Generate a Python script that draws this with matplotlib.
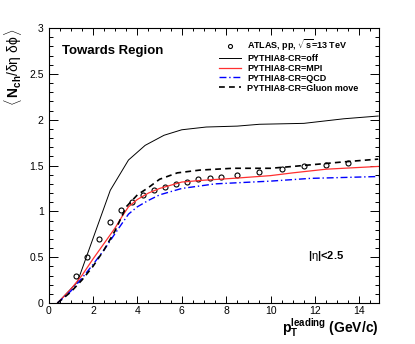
import numpy as np
import matplotlib
matplotlib.use('Agg')
import matplotlib.pyplot as plt
from matplotlib.ticker import MultipleLocator, FormatStrFormatter

plt.rcParams['font.family'] = ['Liberation Sans', 'DejaVu Sans']
plt.rcParams['mathtext.fontset'] = 'custom'
plt.rcParams['mathtext.rm'] = 'Liberation Sans'
plt.rcParams['mathtext.it'] = 'Liberation Sans:italic'
plt.rcParams['mathtext.bf'] = 'Liberation Sans:bold'

# ATLAS data
atlas_x = [1.25, 1.75, 2.25, 2.75, 3.25, 3.75, 4.25, 4.75, 5.25, 5.75, 6.25, 6.75,
           7.25, 7.75, 8.5, 9.5, 10.5, 11.5, 12.5, 13.5]
atlas_y = [0.30, 0.50, 0.70, 0.88, 1.01, 1.10, 1.18, 1.23, 1.27, 1.30, 1.32, 1.35,
           1.36, 1.38, 1.40, 1.43, 1.46, 1.49, 1.51, 1.53]

# PYTHIA8 CR=off
off_x = [0.4, 1.3, 2.78, 3.6, 4.35, 5.2, 6.0, 7.1, 8.5, 9.5, 11.5, 13.3, 14.85]
off_y = [0.0, 0.23, 1.23, 1.56, 1.72, 1.83, 1.89, 1.92, 1.93, 1.95, 1.96, 2.01, 2.04]

# PYTHIA8 CR=MPI
mpi_x = [0.4, 1.0, 1.5, 2.0, 2.5, 3.0, 3.3, 3.6, 4.0, 4.5, 5.0, 6.0, 7.0, 8.3, 10.0, 11.0, 12.5, 14.85]
mpi_y = [0.0, 0.15, 0.30, 0.48, 0.65, 0.82, 0.94, 1.05, 1.13, 1.20, 1.25, 1.32, 1.34, 1.36, 1.39, 1.42, 1.46, 1.49]

# PYTHIA8 CR=QCD
qcd_x = [0.4, 1.0, 1.5, 2.0, 2.5, 3.0, 3.6, 4.0, 4.5, 5.0, 6.0, 7.5, 10.0, 11.8, 14.85]
qcd_y = [0.0, 0.13, 0.27, 0.42, 0.58, 0.76, 0.97, 1.05, 1.12, 1.18, 1.25, 1.30, 1.33, 1.36, 1.38]

# PYTHIA8 CR=Gluon move
gm_x = [0.4, 1.0, 1.5, 2.0, 2.5, 3.0, 3.5, 4.0, 4.5, 5.0, 5.8, 6.8, 8.3, 10.0, 11.0, 13.3, 14.85]
gm_y = [0.0, 0.12, 0.25, 0.40, 0.58, 0.79, 1.05, 1.18, 1.26, 1.35, 1.42, 1.45, 1.47, 1.47, 1.49, 1.54, 1.57]

fig = plt.figure(figsize=(4.15, 3.44), dpi=100)
ax = fig.add_axes([0.117, 0.119, 0.7955, 0.7996])

ax.plot(atlas_x, atlas_y, 'o', mfc='none', mec='black', ms=3.6, mew=0.8,
        label=r'ATLAS, pp, $\sqrt{\mathbf{s}}$=13 TeV')
ax.plot(off_x, off_y, '-', color='black', lw=0.7, label='PYTHIA8-CR=off')
ax.plot(mpi_x, mpi_y, '-', color='#ff3030', lw=0.9, label='PYTHIA8-CR=MPI')
ax.plot(qcd_x, qcd_y, color='blue', lw=1.0, dashes=(5, 2, 1, 2), label='PYTHIA8-CR=QCD')
ax.plot(gm_x, gm_y, color='black', lw=1.2, dashes=(3.5, 2.5), label='PYTHIA8-CR=Gluon move')

ax.set_xlim(0, 14.87)
ax.set_ylim(0, 3)

ax.xaxis.set_major_locator(MultipleLocator(2))
ax.xaxis.set_minor_locator(MultipleLocator(0.5))
ax.yaxis.set_major_locator(MultipleLocator(0.5))
ax.yaxis.set_minor_locator(MultipleLocator(0.1))
ax.yaxis.set_major_formatter(FormatStrFormatter('%g'))
ax.tick_params(which='both', direction='in', top=True, right=True, labelsize=7.5, width=0.7)
ax.tick_params(axis='y', which='major', length=6.5)
ax.tick_params(axis='y', which='minor', length=3.2)
ax.tick_params(axis='x', which='major', length=5)
ax.tick_params(axis='x', which='minor', length=2.5)
ax.tick_params(axis='x', pad=2)
for s in ax.spines.values():
    s.set_linewidth(0.8)

ax.set_ylabel(r'$\langle\,\mathbf{N}_{\mathbf{ch}}/\mathrm{\delta\eta\ \delta\phi}\,\rangle$',
              loc='top', fontsize=10, labelpad=4)
ax.set_xlabel(r'$\mathbf{p}_{\mathbf{T}}^{\mathbf{leading}}$ (GeV/c)',
              loc='right', fontsize=10, fontweight='bold', labelpad=1)

ax.text(0.042, 0.915, 'Towards Region', transform=ax.transAxes, fontsize=9.5,
        fontweight='bold', va='center')
ax.text(0.785, 0.17, r'|$\mathrm{\eta}$|<2.5', transform=ax.transAxes, fontsize=8,
        fontweight='bold', va='center')

leg = ax.legend(loc='upper left', bbox_to_anchor=(0.515, 0.966), frameon=False,
                borderaxespad=0, borderpad=0, handlelength=2.5,
                handletextpad=0.7, labelspacing=0.1, markerscale=0.8,
                prop={'weight': 'bold', 'size': 6.5})

fig.savefig('out.png', dpi=100)
